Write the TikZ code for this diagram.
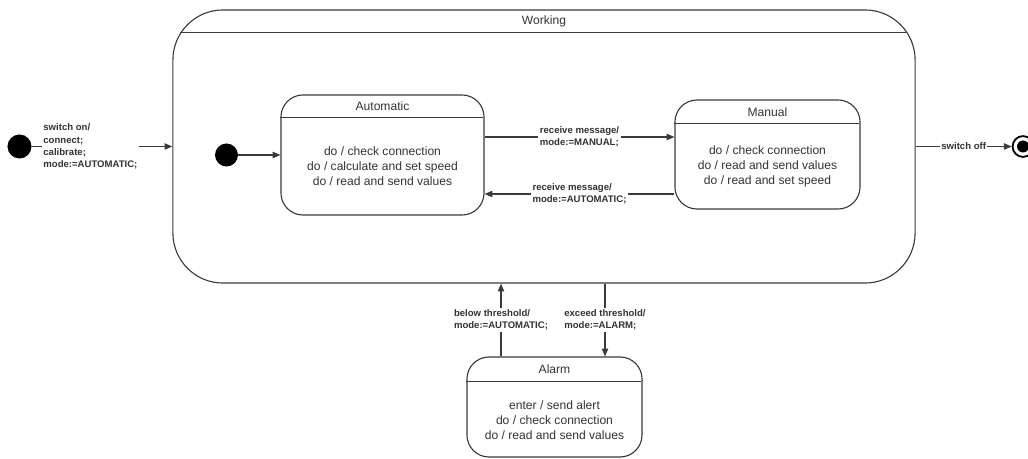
\documentclass[tikz,border=0pt]{standalone}
\usepackage{fontspec}
\setmainfont{Liberation Sans}
\usetikzlibrary{arrows.meta,positioning}
\definecolor{ink}{HTML}{333333}
\definecolor{edge}{HTML}{3A3A3A}
\tikzset{
  state/.style={draw=edge, line width=0.8pt, rounded corners=0.55cm, inner sep=0pt},
  txt/.style={text=ink, font=\fontsize{8.6}{10.7}\selectfont, align=center, inner sep=0pt},
  lbl/.style={text=ink, font=\bfseries\fontsize{6.8}{8.7}\selectfont, align=left, fill=white, inner sep=1pt},
  arr/.style={draw=edge, line width=0.8pt, -{Triangle[length=5.5pt,width=4.5pt]}},
  ln/.style={draw=edge, line width=0.8pt},
  dot/.style={circle, fill=black, inner sep=0pt, minimum size=0.6cm}
}
\begin{document}
\begin{tikzpicture}[x=0.025cm, y=-0.025cm]
	\useasboundingbox (0,0) rectangle (1028,459);
	% superstate
	\node[state, rounded corners=1.25cm, minimum width=18.55cm, minimum height=6.825cm] (working) at (544,146.5) {};
	\draw[ln] (working.north west) ++(8,23) -- ++(726,0);
	\node[txt] (workinghead) at (544,21.5) {Working};
	% substates
	\node[state, minimum width=5.075cm, minimum height=3cm] (auto) at (382.5,155) {};
	\draw[ln] (auto.north west) ++(0,23.5) -- ++(203,0);
	\node[txt] (autohead) at (382.5,106.5) {Automatic};
	\node[txt] (autobody) at (382.5,166.5) {do / check connection\\do / calculate and set speed\\do / read and send values};
	\node[state, minimum width=4.625cm, minimum height=2.725cm] (manual) at (767.5,154.5) {};
	\draw[ln] (manual.north west) ++(0,24) -- ++(185,0);
	\node[txt] (manualhead) at (767.5,112) {Manual};
	\node[txt] (manualbody) at (767.5,166.5) {do / check connection\\do / read and send values\\do / read and set speed};
	\node[state, minimum width=4.375cm, minimum height=2.5cm] (alarm) at (554.5,407) {};
	\draw[ln] (alarm.north west) ++(0,25) -- ++(175,0);
	\node[txt] (alarmhead) at (554.5,369.5) {Alarm};
	\node[txt] (alarmbody) at (554.5,420) {enter / send alert\\do / check connection\\do / read and send values};
	% pseudo states
	\node[dot] (init) at (19.5,146.5) {};
	\node[dot, minimum size=0.575cm] (subinit) at (226.5,155) {};
	\node[circle, draw=black, line width=1.3pt, minimum size=0.52cm, inner sep=0pt] (final) at (1023,146.5) {};
	\node[circle, fill=black, minimum size=0.3cm, inner sep=0pt] (finaldot) at (final) {};
	% transitions
	\coordinate (upper) at (0,137);
	\coordinate (lower) at (0,194);
	\coordinate (below) at (501,0);
	\coordinate (exceed) at (605,0);
	\draw[arr] (init) -- (working) node[lbl, pos=0.417] {switch on/\\connect;\\calibrate;\\mode:=AUTOMATIC;};
	\draw[arr] (subinit) -- (auto);
	\draw[arr] (auto.east |- upper) -- (manual.west |- upper) node[lbl, midway] {receive message/\\mode:=MANUAL;};
	\draw[arr] (manual.west |- lower) -- (auto.east |- lower) node[lbl, midway] {receive message/\\mode:=AUTOMATIC;};
	\draw[arr] (alarm.north -| below) -- (working.south -| below) node[lbl, midway] {below threshold/\\mode:=AUTOMATIC;};
	\draw[arr] (working.south -| exceed) -- (alarm.north -| exceed) node[lbl, midway] {exceed threshold/\\mode:=ALARM;};
	\draw[arr] (working) -- (final) node[lbl, midway] {switch off};
\end{tikzpicture}
\end{document}
